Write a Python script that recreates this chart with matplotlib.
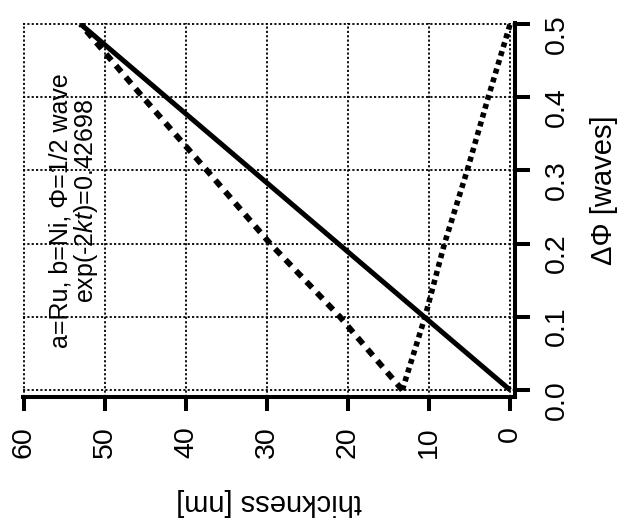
import matplotlib
matplotlib.use("Agg")
import matplotlib.pyplot as plt
import numpy as np

plt.rcParams['font.family'] = ['Liberation Sans', 'DejaVu Sans']
plt.rcParams['mathtext.fontset'] = 'custom'
plt.rcParams['mathtext.rm'] = 'Liberation Sans'
plt.rcParams['mathtext.it'] = 'Liberation Sans:italic'

# data (thickness in nm, phase in waves)
phase_pts = [0.0, 0.1, 0.2, 0.3, 0.4, 0.5]
solid_thick = [0.0, 10.6, 21.2, 31.8, 42.4, 53.0]
dashed_thick = [13.3, 21.0, 29.6, 37.4, 45.3, 53.0]
dotted_thick = [13.3, 10.5, 8.1, 5.3, 2.7, 0.0]

thick_ticks = [0, 10, 20, 30, 40, 50, 60]
phase_ticks = [0.0, 0.1, 0.2, 0.3, 0.4, 0.5]

fig = plt.figure(figsize=(6.17, 5.27), dpi=100)
W, H = 617, 527
x0, x1, y0, y1 = 23, 515, 23, 397
ax = fig.add_axes([x0 / W, 1 - y1 / H, (x1 - x0) / W, (y1 - y0) / H])

ax.plot(solid_thick, phase_pts, color='black', lw=3.6, solid_capstyle='butt')
ax.plot(dashed_thick, phase_pts, color='black', lw=4.2,
        linestyle=(0, (1.4, 1.2)), dash_capstyle='butt')
ax.plot(dotted_thick, phase_pts, color='black', lw=4.0,
        linestyle=(0, (0.9, 0.75)), dash_capstyle='butt')

ax.set_xlim(60.1, -0.6)
ax.set_ylim(-0.0095, 0.5015)
ax.set_xticks(thick_ticks)
ax.set_yticks(phase_ticks)
ax.set_xticklabels([str(t) for t in thick_ticks])
ax.set_yticklabels(['%.1f' % p for p in phase_ticks])

ax.grid(True, color='black', lw=1.3, linestyle=(0, (1.2, 1.2)))
ax.set_axisbelow(True)

for s in ['top', 'left']:
    ax.spines[s].set_visible(False)
for s in ['bottom', 'right']:
    ax.spines[s].set_linewidth(2.9)

ax.tick_params(axis='x', direction='out', length=10, width=2.9,
               labelsize=20.5, labelrotation=90, pad=11)
ax.tick_params(axis='y', direction='out', length=11, width=2.9,
               left=False, labelleft=False, right=True, labelright=True,
               labelsize=20.5, labelrotation=90, pad=10)

ax.set_xlabel('thickness [nm]', fontsize=21, rotation=180)
ax.xaxis.set_label_coords(0.5, (y1 - 502) / (y1 - y0))
ax.xaxis.label.set_va('center')

ax.yaxis.set_label_position('right')
ax.set_ylabel('ΔΦ [waves]', fontsize=21, rotation=90)
ax.yaxis.set_label_coords((604 - x0) / (x1 - x0), (y1 - 190) / (y1 - y0))
ax.yaxis.label.set_va('center')
ax.yaxis.label.set_ha('center')

ax.text((61 - x0) / (x1 - x0), (y1 - 211) / (y1 - y0), 'a=Ru, b=Ni, Φ=1/2 wave',
        transform=ax.transAxes, rotation=90, fontsize=18,
        ha='center', va='center')
ax.text((86 - x0) / (x1 - x0), (y1 - 201) / (y1 - y0), 'exp(-2$kt$)=0.42698',
        transform=ax.transAxes, rotation=90, fontsize=18,
        ha='center', va='center')

fig.savefig('out.png', dpi=100)
